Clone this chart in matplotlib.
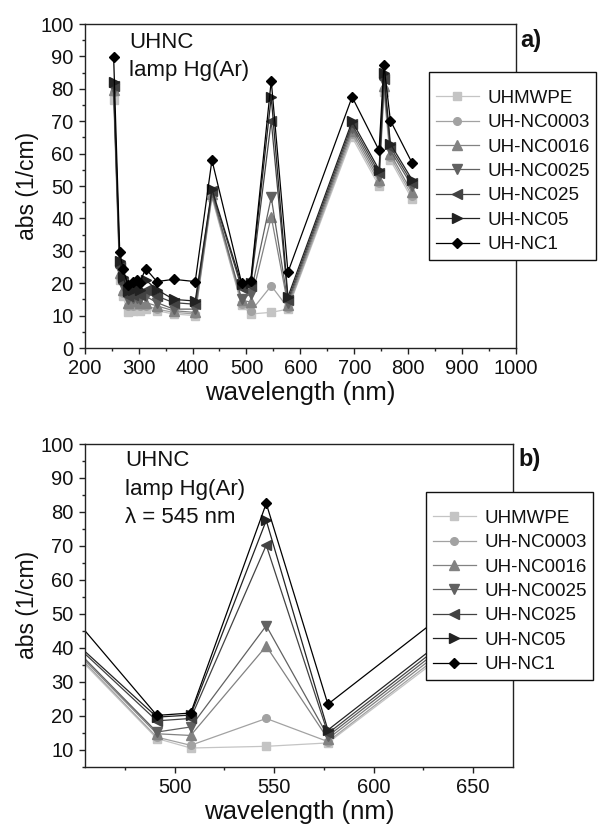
import matplotlib
matplotlib.use("Agg")
import matplotlib.pyplot as plt
from matplotlib.ticker import MultipleLocator

plt.rcParams['font.family'] = ['Liberation Sans', 'DejaVu Sans']

# ---------------- data ----------------
wavelength = [253.7, 265, 271, 280, 289, 297, 302, 313, 334, 365, 405, 436,
              491, 508, 546, 577, 696, 746, 755, 767, 807]

uhmwpe  = [76.5, 21, 16, 11.0, 11.5, 12.0, 11.5, 12, 11.5, 10.5, 10.0, 46.5,
           13.3, 10.5, 11.0, 12.0, 65, 50, 79, 58, 46]
nc0003  = [79.0, 22, 17, 13.0, 13.0, 13.5, 13.0, 13, 12.0, 11.0, 10.5, 47.0,
           13.7, 11.3, 19.2, 12.4, 66, 51, 80, 59, 47]
nc0016  = [79.5, 23, 18, 14.0, 14.5, 14.5, 14.0, 14, 13.0, 11.5, 11.0, 47.5,
           14.7, 14.2, 40.5, 13.2, 67, 52, 81, 60, 48]
nc0025  = [80.0, 24, 19, 15.0, 15.5, 15.5, 15.0, 16, 14.0, 12.0, 12.0, 48.0,
           15.2, 16.7, 46.5, 14.0, 68, 53, 82, 61, 50]
nc025   = [81.0, 25, 20, 16.0, 16.5, 17.0, 16.5, 18, 16.0, 14.0, 13.5, 48.5,
           18.5, 19.2, 70.2, 14.8, 69, 54, 83, 62, 51]
nc05    = [82.0, 27, 22, 17.5, 18.0, 18.5, 18.0, 21, 18.0, 15.0, 14.5, 49.0,
           19.6, 20.2, 77.5, 15.8, 70, 55, 85, 63, 52]
nc1     = [89.7, 29.5, 24.5, 19.5, 20.5, 21.0, 20.0, 24.5, 20.5, 21.2, 20.5, 58.0,
           20.1, 20.8, 82.5, 23.4, 77.5, 61, 87.3, 70.2, 57.2]

labels = ['UHMWPE', 'UH-NC0003', 'UH-NC0016', 'UH-NC0025', 'UH-NC025', 'UH-NC05', 'UH-NC1']
series = [uhmwpe, nc0003, nc0016, nc0025, nc025, nc05, nc1]
colors = ['#c4c4c4', '#a2a2a2', '#828282', '#616161', '#424242', '#222222', '#000000']
markers = ['s', 'o', '^', 'v', '<', '>', 'D']
msizes = [5.5, 5.5, 6.5, 6.5, 6.5, 6.5, 5.2]

x_ticks_a = [200, 300, 400, 500, 600, 700, 800, 900, 1000]
y_ticks_a = [0, 10, 20, 30, 40, 50, 60, 70, 80, 90, 100]
x_ticks_b = [500, 550, 600, 650]
y_ticks_b = [10, 20, 30, 40, 50, 60, 70, 80, 90, 100]

TXT = '#111111'

W, H = 598, 834
fig = plt.figure(figsize=(W / 100, H / 100), dpi=100)

def px_axes(l, t, r, b):
    return fig.add_axes([l / W, 1 - b / H, (r - l) / W, (b - t) / H])

ax1 = px_axes(84.7, 24, 516, 348)
ax2 = px_axes(84.7, 444, 513.4, 766.7)

for ax in (ax1, ax2):
    for y, lab, c, m, ms in zip(series, labels, colors, markers, msizes):
        ax.plot(wavelength, y, color=c, marker=m, markersize=ms, lw=0.9,
                markeredgecolor=c, markerfacecolor=c, label=lab)
    for s in ax.spines.values():
        s.set_linewidth(1.0)
        s.set_color('#222222')
    ax.tick_params(which='both', direction='out', top=False, right=False,
                   labelsize=14.5, colors='#222222', labelcolor=TXT)
    ax.tick_params(which='major', length=4, width=1.0, pad=4)
    ax.tick_params(which='minor', length=2, width=1.0)
    ax.set_ylabel('abs (1/cm)', fontsize=16.5, color=TXT, labelpad=1)
    ax.set_xlabel('wavelength (nm)', fontsize=18.5, color=TXT, labelpad=2)
    ax.yaxis.set_minor_locator(MultipleLocator(5))

ax1.set_xlim(200, 1000)
ax1.set_ylim(0, 100)
ax1.set_xticks(x_ticks_a)
ax1.set_yticks(y_ticks_a)
ax1.xaxis.set_minor_locator(MultipleLocator(50))

ax2.set_xlim(454.7, 670.3)
ax2.set_ylim(5, 100)
ax2.set_xticks(x_ticks_b)
ax2.set_yticks(y_ticks_b)
ax2.xaxis.set_minor_locator(MultipleLocator(25))

ax1.text(0.103, 0.974, 'UHNC\nlamp Hg(Ar)', transform=ax1.transAxes,
         ha='left', va='top', fontsize=16, color=TXT, linespacing=1.38)
ax2.text(0.094, 0.980, 'UHNC\nlamp Hg(Ar)\nλ = 545 nm', transform=ax2.transAxes,
         ha='left', va='top', fontsize=16, color=TXT, linespacing=1.45)

fig.text(520 / W, 1 - 29 / H, 'a)', ha='left', va='top', fontsize=17,
         fontweight='bold', color=TXT)
fig.text(518 / W, 1 - 448 / H, 'b)', ha='left', va='top', fontsize=17,
         fontweight='bold', color=TXT)

leg_kw = dict(loc='upper left', bbox_transform=fig.transFigure, fontsize=13.5,
              frameon=True, fancybox=False, framealpha=1.0, edgecolor='#111111',
              handlelength=2.3, handletextpad=0.45, labelspacing=0.39,
              borderpad=0.35, borderaxespad=0.0, title=' ', title_fontsize=3)
l1 = ax1.legend(bbox_to_anchor=(429 / W, 1 - 71.7 / H), **leg_kw)
l2 = ax2.legend(bbox_to_anchor=(426 / W, 1 - 491.7 / H), **leg_kw)
for lg in (l1, l2):
    lg.get_frame().set_linewidth(1.0)
    for t in lg.get_texts():
        t.set_color(TXT)

fig.savefig('out.png', dpi=100)
